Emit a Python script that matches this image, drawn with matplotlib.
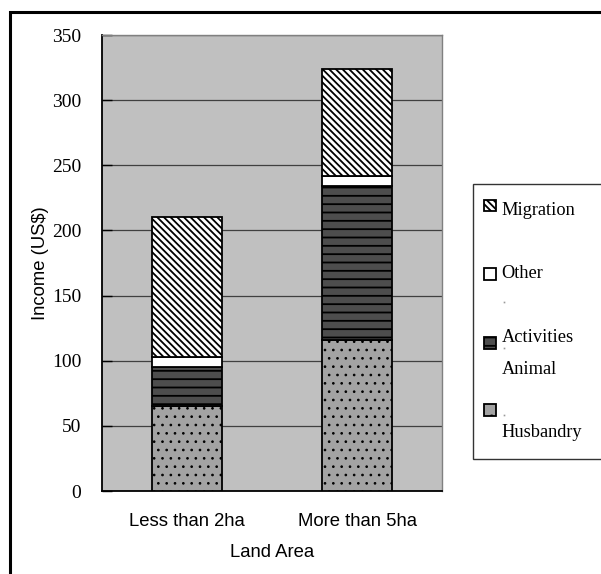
import numpy as np
import matplotlib
matplotlib.use("Agg")
import matplotlib.pyplot as plt
from matplotlib.patches import Rectangle
from matplotlib.lines import Line2D

# income by land area, stacked by source (US$)
categories = ['Less than 2ha', 'More than 5ha']
husbandry = [65, 116]
activities = [30, 118]
other = [8, 8]
migration = [107, 82]

yticks = [0, 50, 100, 150, 200, 250, 300, 350]

W, H = 601, 574
fig = plt.figure(figsize=(W / 100, H / 100), dpi=100)
ax = fig.add_axes([102 / W, 1 - 491 / H, 340 / W, 456 / H])
ax.set_facecolor('#c0c0c0')

x = np.arange(len(categories))
bw = 0.41
# name, values, fill, hatch, hatch line width
styles = [
    ('Husbandry', husbandry, '#a3a3a3', '..', 0.7),
    ('Activities', activities, '#4d4d4d', '--', 1.3),
    ('Other', other, 'white', None, 1.3),
    ('Migration', migration, 'white', '\\' * 5, 1.3),
]
bottom = np.zeros(len(categories))
for name, vals, fc, hatch, hlw in styles:
    with plt.rc_context({'hatch.linewidth': hlw}):
        ax.bar(x, vals, bw, bottom=bottom, color=fc, edgecolor='black',
               hatch=hatch, linewidth=1.3, zorder=3)
    bottom += np.array(vals)

ax.set_xlim(-0.5, 1.5)
ax.set_ylim(0, 350)
ax.set_yticks(yticks)
ax.yaxis.grid(True, color='#404040', linewidth=0.9, zorder=1)
ax.set_axisbelow(True)

ax.set_xticks(x)
ax.set_xticklabels(categories, fontname='Liberation Sans', fontsize=13.3)
ax.set_yticklabels([str(v) for v in yticks], fontname='Liberation Serif', fontsize=14)
ax.tick_params(axis='y', direction='in', length=7, width=1, pad=15, color='black')
ax.tick_params(axis='x', length=0, pad=16)

for s in ['left', 'bottom']:
    ax.spines[s].set_color('black')
    ax.spines[s].set_linewidth(1.3)
for s in ['top', 'right']:
    ax.spines[s].set_color('#808080')
    ax.spines[s].set_linewidth(1.0)

ax.set_xlabel('Land Area', fontname='Liberation Sans', fontsize=13.3, labelpad=10)
ax.set_ylabel('Income (US$)', fontname='Liberation Sans', fontsize=13.3, labelpad=2)

# outer frame
fig.patches.append(Rectangle((10 / W, -0.1), 1.2, 1 - 12 / H + 0.1,
                             transform=fig.transFigure, fill=False,
                             edgecolor='black', linewidth=2.2))

# legend box
fig.patches.append(Rectangle((473 / W, 1 - 459 / H), 0.3, (459 - 184) / H,
                             transform=fig.transFigure, facecolor='white',
                             edgecolor='#333333', linewidth=1.0))

def key(y_top, fc, hatch, hlw):
    with plt.rc_context({'hatch.linewidth': hlw}):
        fig.patches.append(Rectangle((484.5 / W, 1 - (y_top + 11.5) / H), 11.5 / W, 11.5 / H,
                                     transform=fig.transFigure, facecolor=fc,
                                     edgecolor='black', hatch=hatch, linewidth=1.3))

key(199.5, 'white', '\\' * 5, 1.3)
key(268, 'white', None, 1.3)
key(337, '#4d4d4d', '--', 1.3)
key(404, '#a3a3a3', '.', 0.7)

legend_text = [('Migration', 215), ('Other', 278.5), ('Activities', 342),
               ('Animal', 373.5), ('Husbandry', 437)]
for txt, yb in legend_text:
    fig.text(501.5 / W, 1 - yb / H, txt, fontname='Liberation Serif',
             fontsize=13.2, va='baseline', ha='left')

# stray specks left in the legend
fig.add_artist(Line2D([503.5 / W] * 3, [1 - 302.5 / H, 1 - 347.5 / H, 1 - 414.5 / H],
                      transform=fig.transFigure, linestyle='none', marker='s',
                      markersize=1.2, markeredgewidth=0, color='#999999'))

fig.savefig('out.png', dpi=100)
